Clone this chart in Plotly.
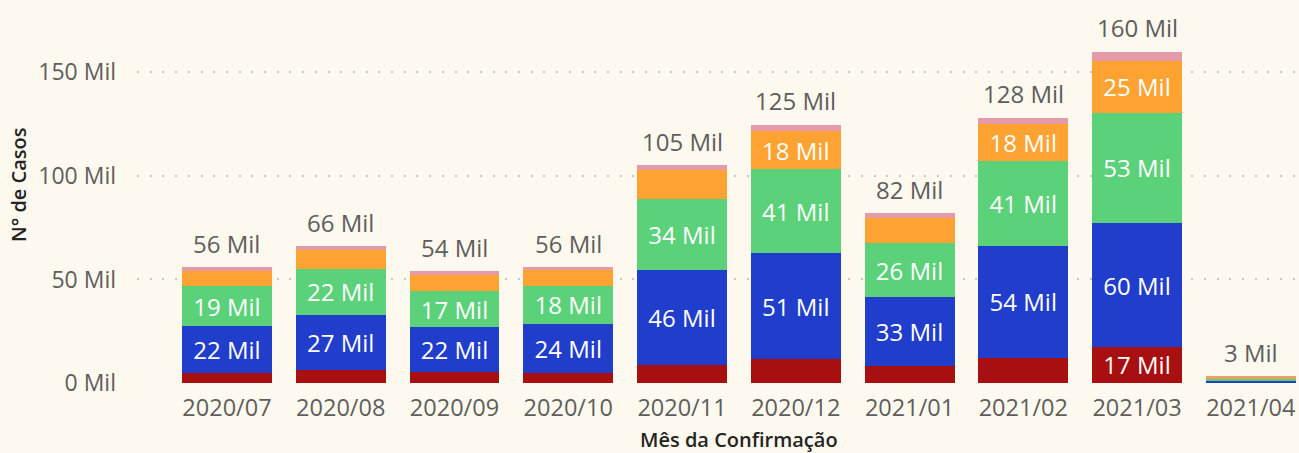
import plotly.graph_objects as go

# Monthly confirmed cases, in thousands ("Mil"), split into five stacked groups
months = ["2020/07", "2020/08", "2020/09", "2020/10", "2020/11",
          "2020/12", "2021/01", "2021/02", "2021/03", "2021/04"]
grupo_1 = [5.0, 6.3, 5.2, 4.7, 8.7, 11.6, 8.3, 12.3, 17.4, 0.3]      # bottom, dark red
grupo_2 = [22.4, 26.7, 21.8, 23.9, 45.8, 51.0, 33.1, 54.0, 59.8, 0.9]  # blue
grupo_3 = [19.3, 22.0, 17.2, 18.3, 34.2, 40.8, 26.0, 41.0, 53.4, 0.7]  # green
grupo_4 = [7.5, 9.3, 7.9, 7.8, 14.2, 18.2, 12.4, 17.9, 25.0, 1.0]     # orange
grupo_5 = [1.8, 1.7, 1.9, 1.3, 2.2, 3.2, 2.2, 2.9, 4.3, 0.1]          # top, pink

y_ticks = [0, 50, 100, 150]
y_tick_text = ["0 Mil", "50 Mil", "100 Mil", "150 Mil"]

series = [
    (grupo_1, "#A80F10"),
    (grupo_2, "#213DCC"),
    (grupo_3, "#5BD17A"),
    (grupo_4, "#FEA331"),
    (grupo_5, "#E59BA7"),
]

BG = "#FDF9EF"
FONT = "Open Sans"
MIN_LABEL = 15  # segments smaller than this stay unlabelled

W, H = 1299, 453
L, R, T, B = 137, 0, 20, 70


def px_to_paper(px, py):
    """Pixel position in the page -> paper coordinates of the plot area."""
    return (px - L) / (W - L - R), (H - B - py) / (H - T - B)


fig = go.Figure()
for values, color in series:
    labels = [f"{round(v)} Mil" if v >= MIN_LABEL else "" for v in values]
    fig.add_trace(go.Bar(
        x=months, y=values, marker=dict(color=color, line=dict(width=0)),
        text=labels, textposition="inside", insidetextanchor="middle",
        textangle=0, textfont=dict(family=FONT, size=24, color="white"),
        hoverinfo="skip", showlegend=False,
    ))

# Total labels above each stack
totals = [sum(v) for v in zip(grupo_1, grupo_2, grupo_3, grupo_4, grupo_5)]
for m, t in zip(months, totals):
    fig.add_annotation(
        x=m, y=t, text=f"{round(t)} Mil", showarrow=False,
        xref="x", yref="y", xanchor="center", yanchor="middle", yshift=24,
        font=dict(family=FONT, size=24, color="#605E5C"),
    )

# Axis titles
tx, ty = px_to_paper(739, 439)
fig.add_annotation(
    x=tx, y=ty, xref="paper", yref="paper", text="Mês da Confirmação",
    xanchor="center", yanchor="middle", showarrow=False,
    font=dict(family=FONT, size=20, color="#252423", weight=600),
)
tx, ty = px_to_paper(18, 185)
fig.add_annotation(
    x=tx, y=ty, xref="paper", yref="paper", text="N° de Casos", textangle=-90,
    xanchor="center", yanchor="middle", showarrow=False,
    font=dict(family=FONT, size=20, color="#252423", weight=600),
)

fig.update_layout(
    width=W, height=H,
    margin=dict(l=L, r=R, t=T, b=B, pad=0),
    barmode="stack", bargap=0.209,
    paper_bgcolor=BG, plot_bgcolor=BG,
    uniformtext=dict(minsize=24, mode="show"),
    font=dict(family=FONT),
)
fig.update_xaxes(
    range=[-0.791, 9.424], showgrid=False, zeroline=False, showline=False,
    ticks="", tickfont=dict(family=FONT, size=23.5, color="#605E5C"),
    ticklabelstandoff=8,
)
fig.update_yaxes(
    range=[0, 175.3], tickvals=y_ticks, ticktext=y_tick_text,
    showgrid=True, gridcolor="#C9C7C2", gridwidth=2, griddash="2px,10.7px",
    zeroline=False, showline=False, ticks="",
    tickfont=dict(family=FONT, size=23, color="#605E5C"),
    ticklabelstandoff=20,
)

fig.write_html("out.html")
